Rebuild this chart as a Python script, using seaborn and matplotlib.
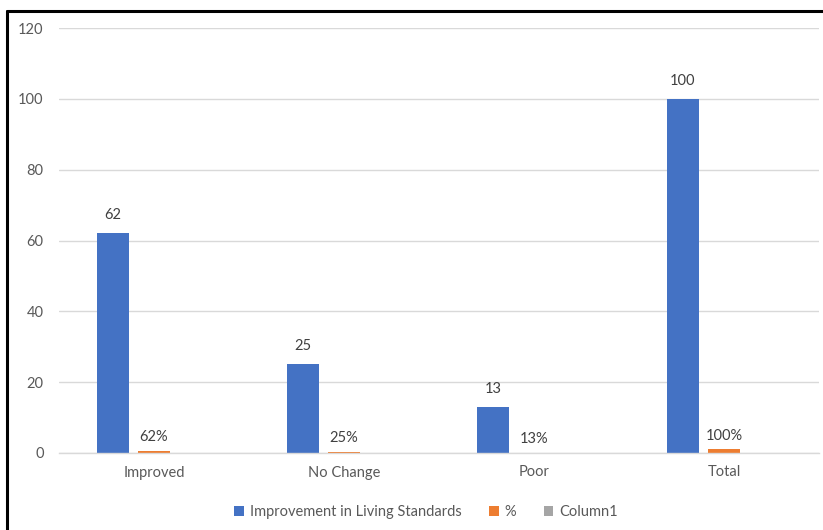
import numpy as np
import pandas as pd
import matplotlib
matplotlib.use('Agg')
import matplotlib.pyplot as plt
from matplotlib.lines import Line2D
from matplotlib.patches import Patch
import seaborn as sns

categories = ['Improved', 'No Change', 'Poor', 'Total']
living_standards = [62, 25, 13, 100]
percent = [0.62, 0.25, 0.13, 1.00]
column1 = [0, 0, 0, 0]
series_names = ['Improvement in Living Standards', '%', 'Column1']
colors = ['#4472C4', '#ED7D31', '#A5A5A5']
y_ticks = [0, 20, 40, 60, 80, 100, 120]

if __name__ == "__main__":
    df = pd.DataFrame({
        'category': categories * 3,
        'series': np.repeat(series_names, len(categories)),
        'value': living_standards + percent + column1,
    })

    sns.set_theme(style='white')
    plt.rcParams['font.family'] = ['Lato', 'DejaVu Sans']
    text_col = '#595959'

    fig = plt.figure(figsize=(8.23, 5.30), dpi=100)
    ax = fig.add_axes([59 / 823, 77 / 530, 760 / 823, 425 / 530])

    sns.barplot(data=df, x='category', y='value', hue='series',
                order=categories, hue_order=series_names,
                palette=colors, saturation=1, width=0.649, gap=0.22,
                linewidth=0, errorbar=None, legend=False, ax=ax)

    ax.set_ylim(0, 120)
    ax.set_xlim(-0.5, 3.5)
    ax.set_yticks(y_ticks)
    ax.grid(axis='y', color='#D9D9D9', linewidth=1)
    ax.set_axisbelow(True)
    for side in ['top', 'right', 'left']:
        ax.spines[side].set_visible(False)
    ax.spines['bottom'].set_color('#D9D9D9')
    ax.spines['bottom'].set_linewidth(1)
    ax.tick_params(axis='y', length=0, pad=11, labelsize=10.5, labelcolor=text_col)
    ax.tick_params(axis='x', length=0, pad=9, labelsize=10.5, labelcolor=text_col)
    ax.set_xlabel('')
    ax.set_ylabel('')

    ax.bar_label(ax.containers[0], labels=[str(v) for v in living_standards],
                 padding=8, fontsize=10.5, color='#404040')
    ax.bar_label(ax.containers[1], labels=['{:.0f}%'.format(v * 100) for v in percent],
                 padding=5, fontsize=10.5, color='#404040')

    handles = [Patch(facecolor=c, edgecolor='none') for c in colors]
    fig.legend(handles, series_names, loc='center', bbox_to_anchor=(426 / 823, 1 - 512 / 530),
               ncol=3, frameon=False, fontsize=10.5, handlelength=0.65, handleheight=0.65,
               handletextpad=0.4, columnspacing=1.9, labelcolor=text_col)

    # black frame (left and top edges visible)
    fig.add_artist(Line2D([7.5 / 823, 7.5 / 823], [0, 1 - 11 / 530], color='black',
                          linewidth=2.2, transform=fig.transFigure))
    fig.add_artist(Line2D([7.5 / 823, 1], [1 - 11 / 530, 1 - 11 / 530], color='black',
                          linewidth=2.2, transform=fig.transFigure))

    plt.savefig('out.png', dpi=100)
